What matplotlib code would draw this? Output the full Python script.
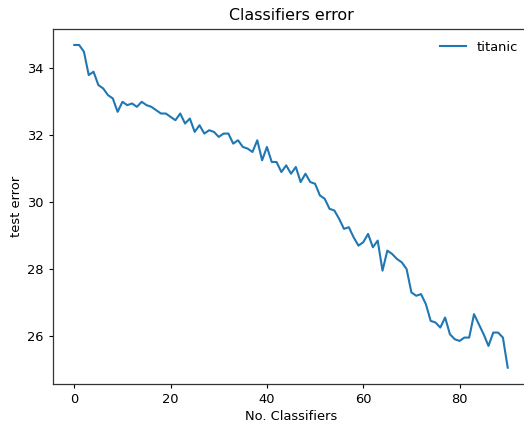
import numpy as np
import matplotlib
matplotlib.use('Agg')
import matplotlib.pyplot as plt

# test error per number of classifiers
errors = [34.7, 34.7, 34.5, 33.8, 33.9, 33.5, 33.4, 33.2, 33.1, 32.7,
          33.0, 32.9, 32.95, 32.85, 33.0, 32.9, 32.85, 32.75, 32.65, 32.65,
          32.55, 32.45, 32.65, 32.35, 32.5, 32.1, 32.3, 32.05, 32.15, 32.1,
          31.95, 32.05, 32.05, 31.75, 31.85, 31.65, 31.6, 31.5, 31.85, 31.25,
          31.65, 31.2, 31.2, 30.9, 31.1, 30.85, 31.05, 30.6, 30.85, 30.6,
          30.55, 30.2, 30.1, 29.8, 29.75, 29.5, 29.2, 29.25, 28.95, 28.7,
          28.8, 29.05, 28.65, 28.85, 27.95, 28.55, 28.45, 28.3, 28.2, 28.0,
          27.3, 27.2, 27.25, 26.95, 26.45, 26.4, 26.25, 26.55, 26.05, 25.9,
          25.85, 25.95, 25.95, 26.65, 26.35, 26.05, 25.7, 26.1, 26.1, 25.95,
          25.05]
n_classifiers = np.arange(len(errors))
label = 'titanic'

plt.rcParams['font.size'] = 9.4
plt.rcParams['xtick.major.size'] = 2.9
plt.rcParams['ytick.major.size'] = 2.9
plt.rcParams['axes.linewidth'] = 0.9
plt.rcParams['axes.edgecolor'] = '#333333'

fig = plt.figure(figsize=(5.24, 4.22), dpi=100)
ax = fig.add_axes([0.1004, 0.0905, 0.9099, 0.8412])
ax.plot(n_classifiers, errors, label=label, lw=1.5)
ax.set_title('Classifiers error', fontsize=11.4, pad=6.5)
ax.set_xlabel('No. Classifiers', labelpad=3)
ax.set_ylabel('test error', labelpad=3)
ax.set_xticks([0, 20, 40, 60, 80])
ax.set_yticks([26, 28, 30, 32, 34])
ax.legend(loc='upper right', frameon=False)

fig.savefig('out.png', dpi=100)
